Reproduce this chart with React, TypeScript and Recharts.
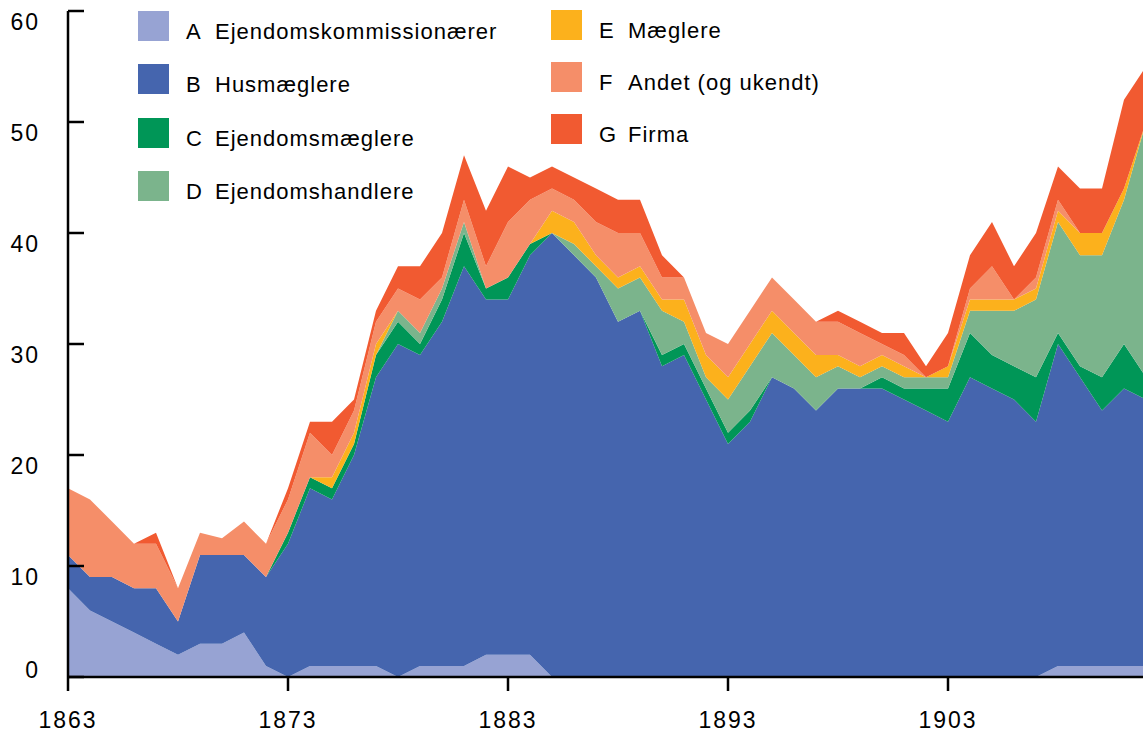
import { Area, AreaChart, XAxis, YAxis } from "recharts";

const years = [
  1863, 1864, 1865, 1866, 1867, 1868, 1869, 1870, 1871, 1872,
  1873, 1874, 1875, 1876, 1877, 1878, 1879, 1880, 1881, 1882,
  1883, 1884, 1885, 1886, 1887, 1888, 1889, 1890, 1891, 1892,
  1893, 1894, 1895, 1896, 1897, 1898, 1899, 1900, 1901, 1902,
  1903, 1904, 1905, 1906, 1907, 1908, 1909, 1910, 1911, 1912,
];

// A–G, stacked bottom to top
const kommissionaerer = [
  8, 6, 5, 4, 3, 2, 3, 3, 4, 1,
  0, 1, 1, 1, 1, 0, 1, 1, 1, 2,
  2, 2, 0, 0, 0, 0, 0, 0, 0, 0,
  0, 0, 0, 0, 0, 0, 0, 0, 0, 0,
  0, 0, 0, 0, 0, 1, 1, 1, 1, 1,
];
const husmaeglere = [
  3, 3, 4, 4, 5, 3, 8, 8, 7, 8,
  12, 16, 15, 19, 26, 30, 28, 31, 36, 32,
  32, 36, 40, 38, 36, 32, 33, 28, 29, 25,
  21, 23, 27, 26, 24, 26, 26, 26, 25, 24,
  23, 27, 26, 25, 23, 29, 26, 23, 25, 24,
];
const ejendomsmaeglere = [
  0, 0, 0, 0, 0, 0, 0, 0, 0, 0,
  1, 1, 1, 1, 2, 2, 1, 2, 3, 1,
  2, 1, 0, 0, 0, 0, 0, 1, 1, 1,
  1, 1, 0, 0, 0, 0, 0, 1, 1, 2,
  3, 4, 3, 3, 4, 1, 1, 3, 4, 2,
];
const ejendomshandlere = [
  0, 0, 0, 0, 0, 0, 0, 0, 0, 0,
  0, 0, 0, 0, 0, 1, 1, 1, 1, 0,
  0, 0, 0, 1, 1, 3, 3, 4, 2, 1,
  3, 4, 4, 3, 3, 2, 1, 1, 1, 1,
  1, 2, 4, 5, 7, 10, 10, 11, 13, 23,
];
const maeglere = [
  0, 0, 0, 0, 0, 0, 0, 0, 0, 0,
  0, 0, 1, 1, 1, 0, 0, 0, 0, 0,
  0, 0, 2, 2, 1, 1, 1, 1, 2, 2,
  2, 2, 2, 2, 2, 1, 1, 1, 1, 0,
  1, 1, 1, 1, 1, 1, 2, 2, 1, 0,
];
const andet = [
  6, 7, 5, 4, 4, 3, 2, 1.5, 3, 3,
  3, 4, 2, 2, 2, 2, 3, 1, 2, 2,
  5, 4, 2, 2, 3, 4, 3, 2, 2, 2,
  3, 3, 3, 3, 3, 3, 3, 1, 1, 0,
  0, 1, 3, 0, 1, 1, 0, 0, 0, 0,
];
const firma = [
  0, 0, 0, 0, 1, 0, 0, 0, 0, 0,
  1, 1, 3, 1, 1, 2, 3, 4, 4, 5,
  5, 2, 2, 2, 3, 3, 3, 2, 0, 0,
  0, 0, 0, 0, 0, 1, 1, 1, 2, 1,
  3, 3, 4, 3, 4, 3, 4, 4, 8, 5,
];

const xTicks = [1863, 1873, 1883, 1893, 1903];
const yTicks = [0, 10, 20, 30, 40, 50, 60];

const series = [
  { key: "A", name: "Ejendomskommissionærer", color: "#97a3d3", values: kommissionaerer },
  { key: "B", name: "Husmæglere", color: "#4565ae", values: husmaeglere },
  { key: "C", name: "Ejendomsmæglere", color: "#009657", values: ejendomsmaeglere },
  { key: "D", name: "Ejendomshandlere", color: "#7bb48c", values: ejendomshandlere },
  { key: "E", name: "Mæglere", color: "#fcb11c", values: maeglere },
  { key: "F", name: "Andet (og ukendt)", color: "#f58e69", values: andet },
  { key: "G", name: "Firma", color: "#f15a31", values: firma },
];

const data = years.map((year, i) => {
  const row: Record<string, number> = { year };
  series.forEach((s) => {
    row[s.key] = s.values[i];
  });
  return row;
});

const FONT = '"Liberation Sans", Arial, Helvetica, sans-serif';

function YTick(props: any) {
  const { x, y, payload } = props;
  const v = payload.value;
  return (
    <g>
      <line x1={x} x2={x + 16} y1={y} y2={y} stroke="#000" strokeWidth={2.5} />
      <text
        x={x - 28}
        y={y + (v === 0 ? -7 : 11)}
        dy="0.36em"
        textAnchor="end"
        fontFamily={FONT}
        fontSize={23}
        letterSpacing={2}
        fill="#000"
      >
        {v}
      </text>
    </g>
  );
}

function LegendBlock() {
  const col1 = series.slice(0, 4);
  const col2 = series.slice(4);
  const text = { position: "absolute" as const, top: 6, lineHeight: "30px", fontSize: 22, letterSpacing: 1, whiteSpace: "nowrap" as const };
  const item = (s: (typeof series)[number], left: number, top: number) => (
    <div key={s.key} style={{ position: "absolute", left, top, height: 30 }}>
      <div style={{ position: "absolute", left: 0, top: 0, width: 31, height: 30, background: s.color }} />
      <div style={{ ...text, left: 48 }}>{s.key}</div>
      <div style={{ ...text, left: 77 }}>{s.name}</div>
    </div>
  );
  return (
    <div style={{ position: "absolute", left: 0, top: 0, fontFamily: FONT, color: "#000" }}>
      {col1.map((s, i) => item(s, 138, 11 + i * 53.3))}
      {col2.map((s, i) => item(s, 551, 10 + i * 52))}
    </div>
  );
}

export default function App() {
  return (
    <div
      style={{
        position: "absolute",
        left: 0,
        top: 0,
        width: 1143,
        height: 732,
        overflow: "hidden",
        background: "#fff",
      }}
    >
      <AreaChart
        width={1146}
        height={732}
        data={data}
        margin={{ top: 11, right: 0, bottom: 0, left: 0 }}
      >
        <XAxis
          dataKey="year"
          type="number"
          domain={[1863, 1912]}
          ticks={xTicks}
          interval={0}
          axisLine={{ stroke: "#000", strokeWidth: 2.5 }}
          tickLine={{ stroke: "#000", strokeWidth: 2.5 }}
          tickSize={14}
          tickMargin={21}
          height={55}
          tick={{ fontSize: 23, fill: "#000", fontFamily: FONT, letterSpacing: 2 }}
        />
        <YAxis
          type="number"
          domain={[0, 60]}
          ticks={yTicks}
          interval={0}
          width={68}
          axisLine={{ stroke: "#000", strokeWidth: 2.5 }}
          tickLine={false}
          tickSize={0}
          tickMargin={0}
          tick={<YTick />}
        />
        {series.map((s) => (
          <Area
            key={s.key}
            type="linear"
            dataKey={s.key}
            name={s.name}
            stackId="1"
            stroke="none"
            fill={s.color}
            fillOpacity={1}
            isAnimationActive={false}
            dot={false}
            activeDot={false}
          />
        ))}
      </AreaChart>
      <LegendBlock />
    </div>
  );
}
